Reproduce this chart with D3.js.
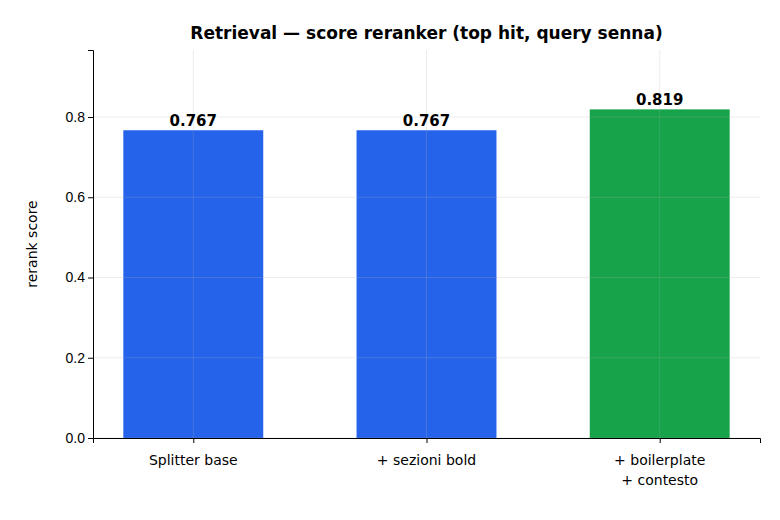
<!DOCTYPE html>
<html><head><meta charset="utf-8">
<script src="https://cdn.jsdelivr.net/npm/d3@7"></script>
<style>body{margin:0;background:#fff}svg{font-family:"DejaVu Sans",sans-serif}</style>
</head><body>
<script>
const categories = ["Splitter base", "+ sezioni bold", "+ boilerplate\n+ contesto"];
const scores = [0.767, 0.767, 0.819];
const colors = ["#2563eb", "#2563eb", "#16a34a"];
const yTicks = [0, 0.2, 0.4, 0.6, 0.8];

const W = 780, H = 520;
const m = {left: 93, right: 20, top: 50, bottom: 82};

const svg = d3.select("body").append("svg").attr("width", W).attr("height", H);

const x = d3.scaleLinear().domain([-0.43, 2.43]).range([m.left, W - m.right]);
const y = d3.scaleLinear().domain([0, 0.967]).range([H - m.bottom, m.top]);
const bw = x(0.6) - x(0);

// barre
svg.selectAll("rect.bar").data(scores).join("rect")
  .attr("x", (d, i) => x(i) - bw / 2)
  .attr("y", d => y(d))
  .attr("width", bw)
  .attr("height", d => y(0) - y(d))
  .attr("fill", (d, i) => colors[i]);

// griglia sopra le barre, molto tenue
const g = svg.append("g").attr("stroke", "#b0b0b0").attr("stroke-opacity", 0.3).attr("stroke-width", 0.8);
yTicks.forEach(t => g.append("line").attr("x1", m.left).attr("x2", W - m.right).attr("y1", y(t)).attr("y2", y(t)));
categories.forEach((c, i) => g.append("line").attr("x1", x(i)).attr("x2", x(i)).attr("y1", m.top).attr("y2", y(0)));

// etichette valori
svg.selectAll("text.val").data(scores).join("text")
  .attr("x", (d, i) => x(i)).attr("y", d => y(d) - 4)
  .attr("text-anchor", "middle").attr("font-size", 15).attr("font-weight", "bold")
  .text(d => d.toFixed(3));

// asse y
const ya = svg.append("g").attr("transform", `translate(${m.left},0)`)
  .call(d3.axisLeft(y).tickValues(yTicks).tickFormat(d3.format(".1f")).tickSizeOuter(0).tickSize(5));
ya.selectAll("text").attr("font-size", 14).attr("fill", "#000");
ya.select(".domain").attr("stroke", "#000");

// asse x
const xa = svg.append("g").attr("transform", `translate(0,${y(0)})`)
  .call(d3.axisBottom(x).tickValues([0, 1, 2]).tickFormat("").tickSizeOuter(0).tickSize(5));
xa.select(".domain").attr("stroke", "#000");
categories.forEach((c, i) => {
  c.split("\n").forEach((line, j) => {
    svg.append("text").attr("x", x(i)).attr("y", y(0) + 27 + j * 20)
      .attr("text-anchor", "middle").attr("font-size", 14).text(line);
  });
});

svg.append("text").attr("transform", `translate(37,${(m.top + y(0)) / 2}) rotate(-90)`)
  .attr("text-anchor", "middle").attr("font-size", 14).text("rerank score");

svg.append("text").attr("x", (m.left + W - m.right) / 2).attr("y", 39)
  .attr("text-anchor", "middle").attr("font-size", 17).attr("font-weight", "bold")
  .text("Retrieval — score reranker (top hit, query senna)");
</script>
</body></html>
